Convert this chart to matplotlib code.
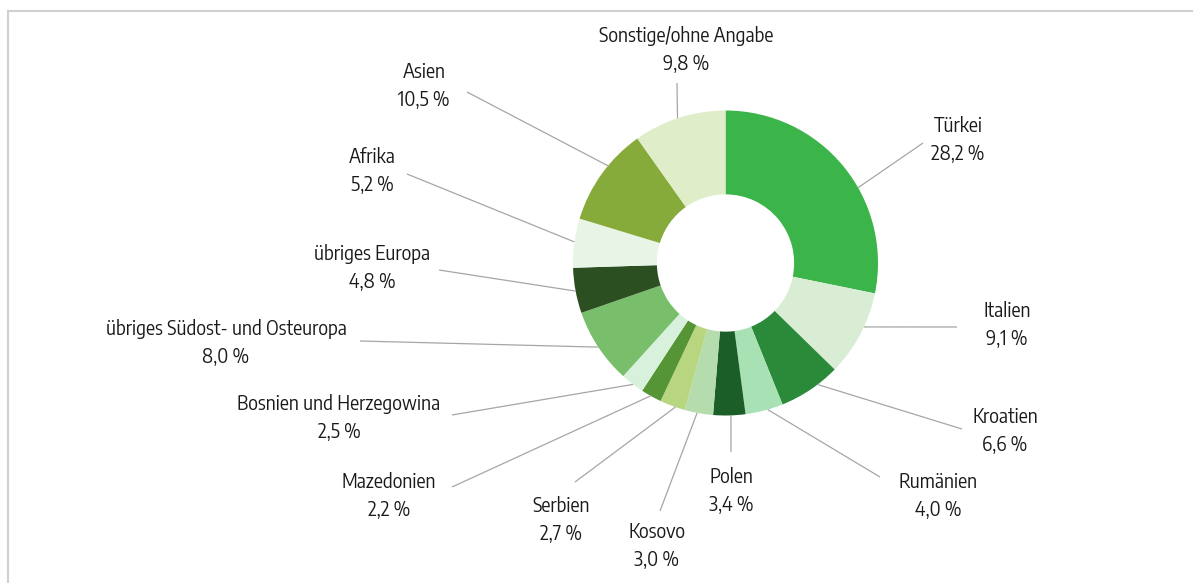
import numpy as np
import matplotlib
matplotlib.use("Agg")
import matplotlib.pyplot as plt
from matplotlib.lines import Line2D
from matplotlib import font_manager

# Anteile nach Herkunft (in %), im Uhrzeigersinn ab 12 Uhr
labels = ["Türkei", "Italien", "Kroatien", "Rumänien", "Polen", "Kosovo", "Serbien",
          "Mazedonien", "Bosnien und Herzegowina", "übriges Südost- und Osteuropa",
          "übriges Europa", "Afrika", "Asien", "Sonstige/ohne Angabe"]
values = [28.2, 9.1, 6.6, 4.0, 3.4, 3.0, 2.7, 2.2, 2.5, 8.0, 4.8, 5.2, 10.5, 9.8]
colors = ["#3bb44a", "#d9edd5", "#2b8a3a", "#a8e2b4", "#1b5e27", "#b5dcad", "#b8d67f",
          "#559535", "#d7f1dc", "#79bf6b", "#2c4f22", "#e8f4e6", "#87ab3a", "#e0edc9"]

# Beschriftungspositionen (Pixel, y von oben) und Enden der Führungslinien
label_pos = [(958, 140), (1007, 325), (1005, 431), (938, 496), (731, 491), (657, 546),
             (561, 520), (389, 496), (339, 418), (226, 343), (372, 268), (372, 171),
             (424, 86), (686, 50)]
line_end = [(923, 143), (957, 327), (962, 429), (880, 477), (731, 452), (660, 511),
            (575, 482), (452, 487), (452, 415), (360, 341), (439, 270), (407, 174),
            (467, 92), (677, 83)]
# wo die Linie am Ring ansetzt (Anteil innerhalb des Segments)
anchor = [0.595, 0.405, 0.36, 0.41, 0.45, 0.56, 0.38, 0.53, 0.46, 0.50, 0.49, 0.52, 0.60, 0.48]

# schmale Schrift suchen, sonst Roboto
narrow = [f for f in font_manager.fontManager.ttflist
          if ("Condensed" in f.name or "Narrow" in f.name
              or "condensed" in str(f.stretch) or "Condensed" in f.fname)
          and f.style == "normal" and f.weight in (400, "normal", "regular")]
narrow.sort(key=lambda f: ("SemiCondensed" not in f.fname, "Sans" not in f.name))
if narrow:
    fp = font_manager.FontProperties(fname=narrow[0].fname, size=13.6)
else:
    fp = font_manager.FontProperties(family="Roboto", size=12.5)

W, H = 1193, 583
fig = plt.figure(figsize=(W / 100, H / 100), dpi=100)
ax = fig.add_axes((0, 0, 1, 1))

cx, cy = 725.5, H - 263
r = 152.5
ax.pie(values, colors=colors, startangle=90, counterclock=False,
       center=(cx, cy), radius=r,
       wedgeprops=dict(width=r * 0.55, linewidth=0))

ax.set_xlim(0, W)
ax.set_ylim(0, H)
ax.set_aspect("equal")
ax.axis("off")

# Führungslinien und Beschriftungen
bounds = 90 - np.cumsum([0] + values) * 3.6
for i, lab in enumerate(labels):
    a = np.radians(bounds[i] + (bounds[i + 1] - bounds[i]) * anchor[i])
    x0, y0 = cx + r * np.cos(a), cy + r * np.sin(a)
    x1, y1 = line_end[i][0], H - line_end[i][1]
    ax.plot([x0, x1], [y0, y1], color="#a6a6a6", lw=0.9, solid_capstyle="butt")
    tx, ty = label_pos[i][0], H - label_pos[i][1]
    txt = f"{lab}\n{values[i]:.1f} %".replace(".", ",")
    ax.text(tx, ty, txt, ha="center", va="center", fontproperties=fp,
            color="#1a1a1a", linespacing=1.45)

# Rahmen oben und links
fig.add_artist(Line2D([8 / W, 1], [1 - 11 / H, 1 - 11 / H], color="#d0d0d0", lw=1.5))
fig.add_artist(Line2D([8 / W, 8 / W], [0, 1 - 11 / H], color="#d0d0d0", lw=1.5))

fig.savefig("out.png", dpi=100)
